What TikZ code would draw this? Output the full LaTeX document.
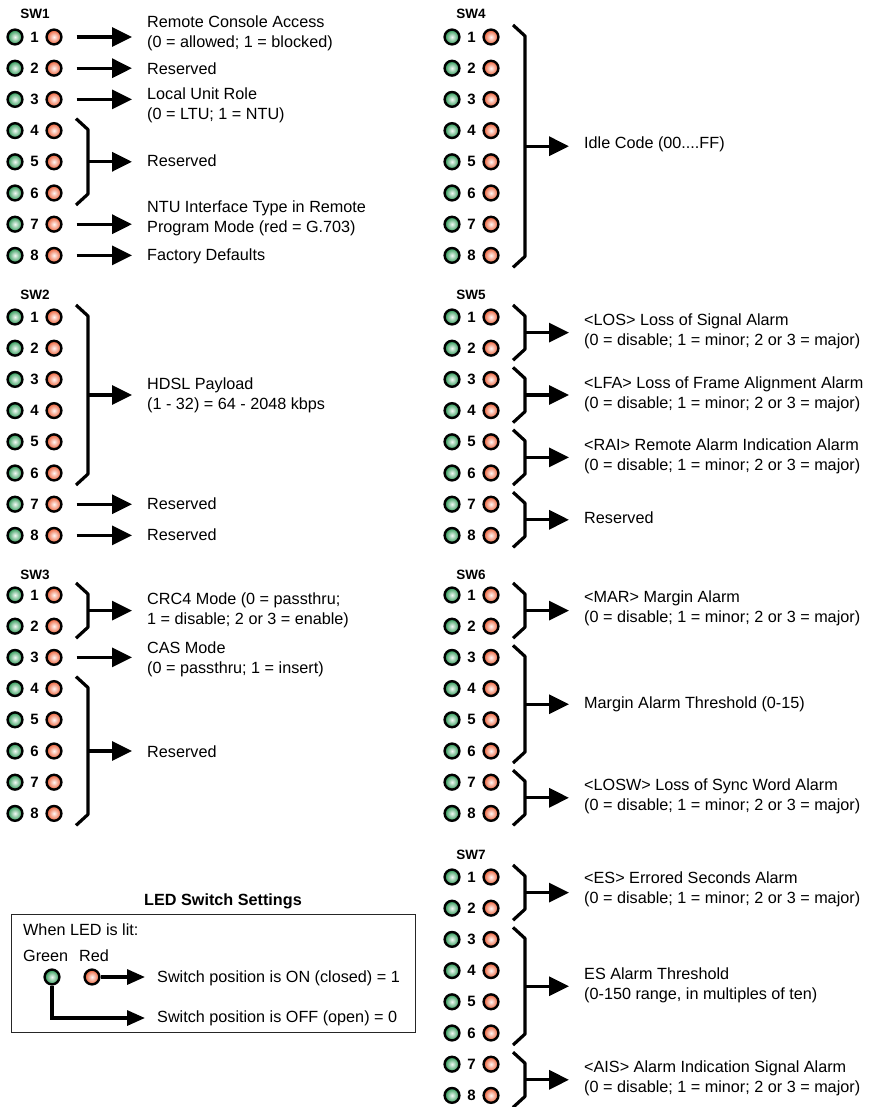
\documentclass[tikz,border=0pt]{standalone}
\usepackage{fontspec}
\setmainfont{Liberation Sans}
\usetikzlibrary{arrows.meta, calc, positioning}

\definecolor{ledgreen}{RGB}{36,148,78}
\definecolor{ledred}{RGB}{236,90,48}

\tikzset{
  greenled/.style={circle, draw, line width=2.4pt, minimum size=14.8pt, inner sep=0pt,
                   inner color=ledgreen!5!white, outer color=ledgreen},
  redled/.style={circle, draw, line width=2.4pt, minimum size=14.8pt, inner sep=0pt,
                 inner color=ledred!5!white, outer color=ledred},
  ledno/.style={inner sep=0pt, font=\fontsize{15}{15}\selectfont\bfseries},
  swlabel/.style={inner sep=0pt, font=\fontsize{13.5}{14}\selectfont\bfseries},
  desc/.style={anchor=west, align=left, inner sep=0pt, font=\fontsize{16.2}{20}\selectfont},
  sigarrow/.style={line width=3.2pt, -{Triangle[length=20pt, width=19pt]}, shorten >=15pt},
  bracketline/.style={line width=3.2pt, line join=round},
}

% one switch bank: name, x of green LED, y of first row
\newcommand{\swbank}[3]{%
  \foreach \k in {1,...,8} {
    \node[greenled] (#1g\k) at (#2, {#3+31.2*(\k-1)}) {};
    \node[ledno] (#1n\k) at (#2+19.5, {#3+31.2*(\k-1)}) {\k};
    \node[redled] (#1r\k) at (#2+39, {#3+31.2*(\k-1)}) {};
  }
}
% bracket over a range of rows: first red LED, last red LED, name of its tip
\newcommand{\swbracket}[3]{%
  \draw[bracketline] ($(#1)+(22,-12)$) -- ($(#1)+(34,-1)$) -- ($(#2)+(34,1)$) -- ($(#2)+(22,12)$);
  \coordinate (#3) at ($(#1)!0.5!(#2)+(34,0)$);
}

\begin{document}
\begin{tikzpicture}[x=1pt, y=-1pt]
    \useasboundingbox (0,0) rectangle (871,1107);

    % SW1
    \node[swlabel] (sw1) at (35,14) {SW1};
    \swbank{sw1}{15}{37}
    \node[desc] (t1a) at (147,33) {Remote Console Access\\(0 = allowed; 1 = blocked)};
    \node[desc] (t1b) at (147,69) {Reserved};
    \node[desc] (t1c) at (147,105) {Local Unit Role\\(0 = LTU; 1 = NTU)};
    \node[desc] (t1d) at (147,161) {Reserved};
    \node[desc] (t1e) at (147,218) {NTU Interface Type in Remote\\Program Mode (red = G.703)};
    \node[desc] (t1f) at (147,256) {Factory Defaults};
    \draw[sigarrow] ([xshift=14pt]sw1r1.east) -- (sw1r1 -| t1a.west);
    \draw[sigarrow] ([xshift=14pt]sw1r2.east) -- (sw1r2 -| t1b.west);
    \draw[sigarrow] ([xshift=14pt]sw1r3.east) -- (sw1r3 -| t1c.west);
    \swbracket{sw1r4}{sw1r6}{b1d}
    \draw[sigarrow] (b1d) -- (b1d -| t1d.west);
    \draw[sigarrow] ([xshift=14pt]sw1r7.east) -- (sw1r7 -| t1e.west);
    \draw[sigarrow] ([xshift=14pt]sw1r8.east) -- (sw1r8 -| t1f.west);

    % SW2
    \node[swlabel] (sw2) at (35,295) {SW2};
    \swbank{sw2}{15}{317}
    \node[desc] (t2a) at (147,395) {HDSL Payload\\(1 - 32) = 64 - 2048 kbps};
    \node[desc] (t2b) at (147,504) {Reserved};
    \node[desc] (t2c) at (147,535) {Reserved};
    \swbracket{sw2r1}{sw2r6}{b2a}
    \draw[sigarrow] (b2a) -- (b2a -| t2a.west);
    \draw[sigarrow] ([xshift=14pt]sw2r7.east) -- (sw2r7 -| t2b.west);
    \draw[sigarrow] ([xshift=14pt]sw2r8.east) -- (sw2r8 -| t2c.west);

    % SW3
    \node[swlabel] (sw3) at (35,575) {SW3};
    \swbank{sw3}{15}{595}
    \node[desc] (t3a) at (147,610) {CRC4 Mode (0 = passthru;\\1 = disable; 2 or 3 = enable)};
    \node[desc] (t3b) at (147,659) {CAS Mode\\(0 = passthru; 1 = insert)};
    \node[desc] (t3c) at (147,752) {Reserved};
    \swbracket{sw3r1}{sw3r2}{b3a}
    \draw[sigarrow] (b3a) -- (b3a -| t3a.west);
    \draw[sigarrow] ([xshift=14pt]sw3r3.east) -- (sw3r3 -| t3b.west);
    \swbracket{sw3r4}{sw3r8}{b3c}
    \draw[sigarrow] (b3c) -- (b3c -| t3c.west);

    % SW4
    \node[swlabel] (sw4) at (471,14) {SW4};
    \swbank{sw4}{452}{37}
    \node[desc] (t4a) at (584,144) {Idle Code (00....FF)};
    \swbracket{sw4r1}{sw4r8}{b4a}
    \draw[sigarrow] (b4a) -- (b4a -| t4a.west);

    % SW5
    \node[swlabel] (sw5) at (471,295) {SW5};
    \swbank{sw5}{452}{317}
    \node[desc] (t5a) at (584,331) {<LOS> Loss of Signal Alarm\\(0 = disable; 1 = minor; 2 or 3 = major)};
    \node[desc] (t5b) at (584,394) {<LFA> Loss of Frame Alignment Alarm\\(0 = disable; 1 = minor; 2 or 3 = major)};
    \node[desc] (t5c) at (584,456) {<RAI> Remote Alarm Indication Alarm\\(0 = disable; 1 = minor; 2 or 3 = major)};
    \node[desc] (t5d) at (584,518) {Reserved};
    \swbracket{sw5r1}{sw5r2}{b5a}
    \swbracket{sw5r3}{sw5r4}{b5b}
    \swbracket{sw5r5}{sw5r6}{b5c}
    \swbracket{sw5r7}{sw5r8}{b5d}
    \draw[sigarrow] (b5a) -- (b5a -| t5a.west);
    \draw[sigarrow] (b5b) -- (b5b -| t5b.west);
    \draw[sigarrow] (b5c) -- (b5c -| t5c.west);
    \draw[sigarrow] (b5d) -- (b5d -| t5d.west);

    % SW6
    \node[swlabel] (sw6) at (471,575) {SW6};
    \swbank{sw6}{452}{595}
    \node[desc] (t6a) at (584,608) {<MAR> Margin Alarm\\(0 = disable; 1 = minor; 2 or 3 = major)};
    \node[desc] (t6b) at (584,704) {Margin Alarm Threshold (0-15)};
    \node[desc] (t6c) at (584,796) {<LOSW> Loss of Sync Word Alarm\\(0 = disable; 1 = minor; 2 or 3 = major)};
    \swbracket{sw6r1}{sw6r2}{b6a}
    \swbracket{sw6r3}{sw6r6}{b6b}
    \swbracket{sw6r7}{sw6r8}{b6c}
    \draw[sigarrow] (b6a) -- (b6a -| t6a.west);
    \draw[sigarrow] (b6b) -- (b6b -| t6b.west);
    \draw[sigarrow] (b6c) -- (b6c -| t6c.west);

    % SW7
    \node[swlabel] (sw7) at (471,855) {SW7};
    \swbank{sw7}{452}{877}
    \node[desc] (t7a) at (584,889) {<ES> Errored Seconds Alarm\\(0 = disable; 1 = minor; 2 or 3 = major)};
    \node[desc] (t7b) at (584,985) {ES Alarm Threshold\\(0-150 range, in multiples of ten)};
    \node[desc] (t7c) at (584,1078) {<AIS> Alarm Indication Signal Alarm\\(0 = disable; 1 = minor; 2 or 3 = major)};
    \swbracket{sw7r1}{sw7r2}{b7a}
    \swbracket{sw7r3}{sw7r6}{b7b}
    \swbracket{sw7r7}{sw7r8}{b7c}
    \draw[sigarrow] (b7a) -- (b7a -| t7a.west);
    \draw[sigarrow] (b7b) -- (b7b -| t7b.west);
    \draw[sigarrow] (b7c) -- (b7c -| t7c.west);

    % legend
    \node[font=\fontsize{16.2}{20}\selectfont\bfseries] (legtitle) at (223,901) {LED Switch Settings};
    \node[draw=black!85, line width=1.2pt, anchor=north west, minimum width=404pt,
          minimum height=118pt] (legbox) at (11,914) {};
    \node[desc] (leglit) at (23,930) {When LED is lit:};
    \node[desc] (leggreen) at (23,956) {Green};
    \node[desc] (legred) at (79,956) {Red};
    \node[greenled] (lg) at (52,977) {};
    \node[redled] (lr) at (92,977) {};
    \node[desc] (lon) at (157,978) {Switch position is ON (closed) = 1};
    \node[desc] (loff) at (157,1018) {Switch position is OFF (open) = 0};
    \draw[sigarrow, -{Triangle[length=18pt, width=15pt]}, shorten >=12pt] (lr) -- (lr -| lon.west);
    \draw[sigarrow, -{Triangle[length=18pt, width=15pt]}, shorten >=12pt] (lg) |- (loff.west);
\end{tikzpicture}
\end{document}
